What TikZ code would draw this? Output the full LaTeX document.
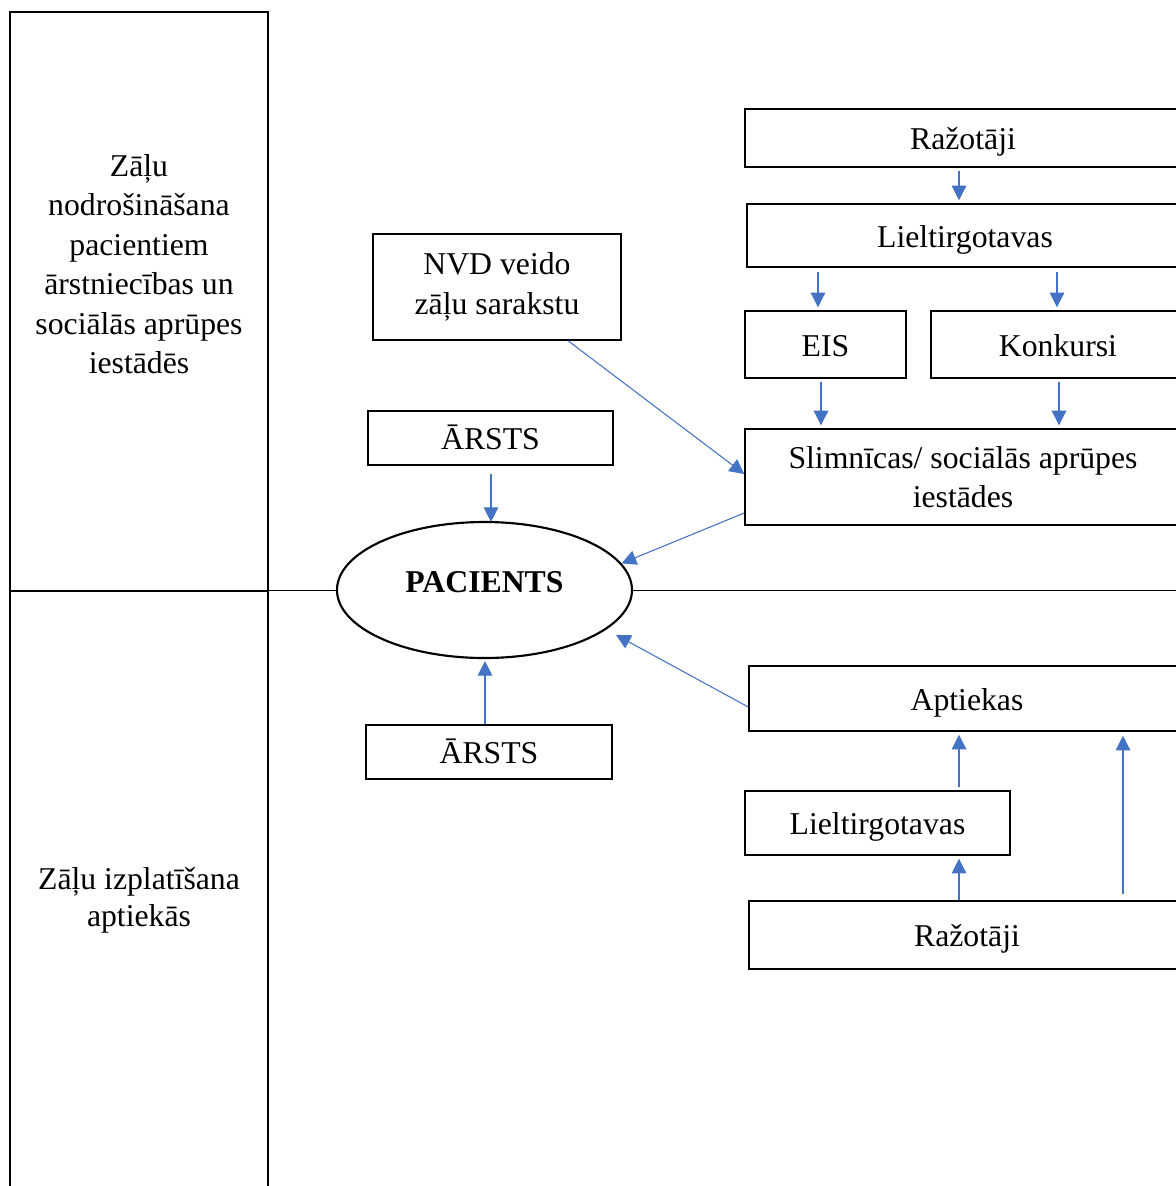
\documentclass[tikz,border=0pt]{standalone}
\usepackage{fontspec}
\setmainfont{Liberation Serif}
\usetikzlibrary{arrows.meta,shapes.geometric}
\newlength\pxu
\setlength\pxu{0.75pt}
\definecolor{arrblue}{HTML}{4472C4}
\tikzset{
  boxbase/.style={draw=black,line width=1.1pt,rectangle,inner sep=0pt,
    font=\fontsize{23.8pt}{29.6pt}\selectfont},
  box/.style={boxbase,align=center},
  onebox/.style={boxbase,text height=20pt,text depth=2.5pt},
  txt/.style={inner sep=0pt,align=center,font=\fontsize{23.8pt}{29.6pt}\selectfont},
  arr/.style={draw=arrblue,line width=0.8pt,-{Triangle[length=11pt,width=11pt]}},
  midline/.style={draw=black,line width=0.75pt}
}
\begin{document}
\begin{tikzpicture}[x=0.75pt,y=-0.75pt]
\useasboundingbox (0,0) rectangle (1176,1186);
\clip (0,0) rectangle (1176,1186);
% left column
\node[box,minimum width=258\pxu,minimum height=579\pxu] (zl1) at (139,301.5) {};
\node[txt] (zl1t) at (139,264) {Zāļu\\nodrošināšana\\pacientiem\\ārstniecības un\\sociālās aprūpes\\iestādēs};
\node[box,minimum width=258\pxu,minimum height=618\pxu] (zl2) at (139,900) {Zāļu izplatīšana\\[-2pt]aptiekās};
% right top chain
\node[onebox,minimum width=436\pxu,minimum height=58\pxu] (rt) at (963,138) {Ražotāji};
\node[onebox,minimum width=436\pxu,minimum height=63\pxu] (lt) at (965,235.5) {Lieltirgotavas};
\node[onebox,minimum width=161\pxu,minimum height=67\pxu] (eis) at (825.5,344.5) {EIS};
\node[onebox,minimum width=254\pxu,minimum height=67\pxu] (kon) at (1058,344.5) {Konkursi};
\node[box,minimum width=436\pxu,minimum height=96\pxu] (sl) at (963,477) {Slimnīcas/ sociālās aprūpes\\iestādes};
\node[box,minimum width=248\pxu,minimum height=106\pxu] (nvd) at (497,287) {NVD veido\\zāļu sarakstu};
\node[onebox,minimum width=245\pxu,minimum height=54\pxu] (ars1) at (490.5,438) {ĀRSTS};
\node[ellipse,draw=black,line width=1.6pt,inner sep=0pt,minimum width=295\pxu,minimum height=136\pxu,
  font=\fontsize{23.8pt}{29.6pt}\selectfont\bfseries] (pac) at (484.5,590) {\raisebox{12pt}{PACIENTS}};
\node[onebox,minimum width=246\pxu,minimum height=54\pxu] (ars2) at (489,752) {ĀRSTS};
% right bottom chain
\node[onebox,minimum width=436\pxu,minimum height=65\pxu] (apt) at (967,698.5) {Aptiekas};
\node[onebox,minimum width=265\pxu,minimum height=64\pxu] (lb) at (877.5,823) {Lieltirgotavas};
\node[onebox,minimum width=436\pxu,minimum height=68\pxu] (rb) at (967,935) {Ražotāji};
\coordinate (re) at (1190,590);
% middle line
\draw[midline] (pac.west -| zl1.east) -- (pac.west);
\draw[midline] (pac.east) -- (re);
% arrows top
\draw[arr,shorten <=3\pxu,shorten >=3\pxu] ([xshift=-4\pxu]rt.south) -- ([xshift=-4\pxu]rt.south |- lt.north);
\draw[arr,shorten <=4\pxu,shorten >=3\pxu] ([xshift=-7.5\pxu]eis.north |- lt.south) -- ([xshift=-7.5\pxu]eis.north);
\draw[arr,shorten <=4\pxu,shorten >=3\pxu] ([xshift=-1\pxu]kon.north |- lt.south) -- ([xshift=-1\pxu]kon.north);
\draw[arr,shorten <=3\pxu,shorten >=3\pxu] ([xshift=-4.5\pxu]eis.south) -- ([xshift=-4.5\pxu]eis.south |- sl.north);
\draw[arr,shorten <=3\pxu,shorten >=3\pxu] ([xshift=1\pxu]kon.south) -- ([xshift=1\pxu]kon.south |- sl.north);
\draw[arr] ([xshift=71\pxu]nvd.south) -- ([yshift=3\pxu]sl.west);
\draw[arr] ([yshift=-36\pxu]sl.west) -- (pac.11);
\draw[arr,shorten <=8\pxu,shorten >=-1\pxu] ([xshift=0.5\pxu]ars1.south) -- ([xshift=0.5\pxu]ars1.south |- pac.north);
% arrows bottom
\draw[arr,shorten >=2\pxu] ([xshift=-4\pxu]ars2.north) -- ([xshift=-4\pxu]ars2.north |- pac.south);
\draw[arr,shorten >=11\pxu] ([yshift=-8.5\pxu]apt.west) -- (pac.-18);
\draw[arr,shorten <=3\pxu,shorten >=3\pxu] ([xshift=-8\pxu]apt.south |- lb.north) -- ([xshift=-8\pxu]apt.south);
\draw[arr,shorten >=3\pxu] ([xshift=-8\pxu]rb.north) -- ([xshift=-8\pxu]rb.north |- lb.south);
\draw[arr,shorten <=6\pxu,shorten >=4\pxu] ([xshift=156\pxu]rb.north) -- ([xshift=156\pxu]rb.north |- apt.south);
\end{tikzpicture}
\end{document}
